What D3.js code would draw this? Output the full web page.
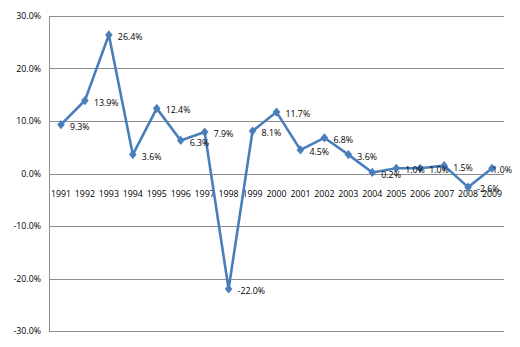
<!DOCTYPE html>
<html>
<head>
<meta charset="utf-8">
<script src="https://cdn.jsdelivr.net/npm/d3@7"></script>
<style>
  html, body { margin: 0; padding: 0; background: #fff; }
  svg text { font-family: "Open Sans", "Noto Sans", sans-serif; font-size: 8.8px; fill: #000; }
</style>
</head>
<body>
<svg id="chart" width="520" height="347"></svg>
<script>
// Annual growth rate, 1991-2009
const years = ["1991","1992","1993","1994","1995","1996","1997","1998","1999","2000",
               "2001","2002","2003","2004","2005","2006","2007","2008","2009"];
const growth = [9.3, 13.9, 26.4, 3.6, 12.4, 6.3, 7.9, -22.0, 8.1, 11.7,
                4.5, 6.8, 3.6, 0.2, 1.0, 1.0, 1.5, -2.6, 1.0];
const yTicks = [30, 20, 10, 0, -10, -20, -30];

const W = 520, H = 347;
const plot = { left: 49, right: 504, top: 16, bottom: 331 };

const svg = d3.select("#chart");

const x = d3.scaleBand().domain(years).range([plot.left, plot.right]).padding(0);
const y = d3.scaleLinear().domain([-30, 30]).range([plot.bottom, plot.top]);

// horizontal gridlines
svg.append("g")
  .selectAll("line")
  .data(yTicks)
  .join("line")
  .attr("x1", plot.left).attr("x2", plot.right)
  .attr("y1", d => Math.round(y(d)) + 0.5).attr("y2", d => Math.round(y(d)) + 0.5)
  .attr("stroke", "#8c8c8c").attr("stroke-width", 1);

// value axis line
svg.append("line")
  .attr("x1", plot.left + 0.5).attr("x2", plot.left + 0.5)
  .attr("y1", plot.top).attr("y2", plot.bottom + 1)
  .attr("stroke", "#8c8c8c").attr("stroke-width", 1);

// value axis labels
const fmt = d => d.toFixed(1) + "%";
svg.append("g")
  .selectAll("text")
  .data(yTicks)
  .join("text")
  .attr("x", plot.left - 8)
  .attr("y", d => y(d))
  .attr("dy", "0.35em")
  .attr("text-anchor", "end")
  .text(fmt);

// category labels just below the zero line
svg.append("g")
  .selectAll("text")
  .data(years)
  .join("text")
  .attr("x", d => x(d) + x.bandwidth() / 2)
  .attr("y", y(0) + 20)
  .attr("dy", "0.35em")
  .attr("text-anchor", "middle")
  .text(d => d);

const pts = years.map((yr, i) => ({ yr, v: growth[i] }));
const cx = d => x(d.yr) + x.bandwidth() / 2;

// series line
svg.append("path")
  .datum(pts)
  .attr("fill", "none")
  .attr("stroke", "#4a7ebb")
  .attr("stroke-width", 2.6)
  .attr("stroke-linejoin", "round")
  .attr("d", d3.line().x(cx).y(d => y(d.v)));

// diamond markers
svg.append("g")
  .selectAll("path")
  .data(pts)
  .join("path")
  .attr("transform", d => `translate(${cx(d)},${y(d.v)})`)
  .attr("d", "M0,-4.6L3.8,0L0,4.6L-3.8,0Z")
  .attr("fill", "#4a7ebb");

// data labels to the right of each point, kept inside the chart area
const labels = svg.append("g")
  .selectAll("text")
  .data(pts)
  .join("text")
  .attr("y", d => y(d.v) + 2)
  .attr("dy", "0.35em")
  .text(d => fmt(d.v));
labels.each(function(d) {
  const w = this.getComputedTextLength();
  let lx = cx(d) + 9;
  if (lx + w > W - 8) lx = W - 8 - w;
  d3.select(this).attr("x", lx);
});
</script>
</body>
</html>
